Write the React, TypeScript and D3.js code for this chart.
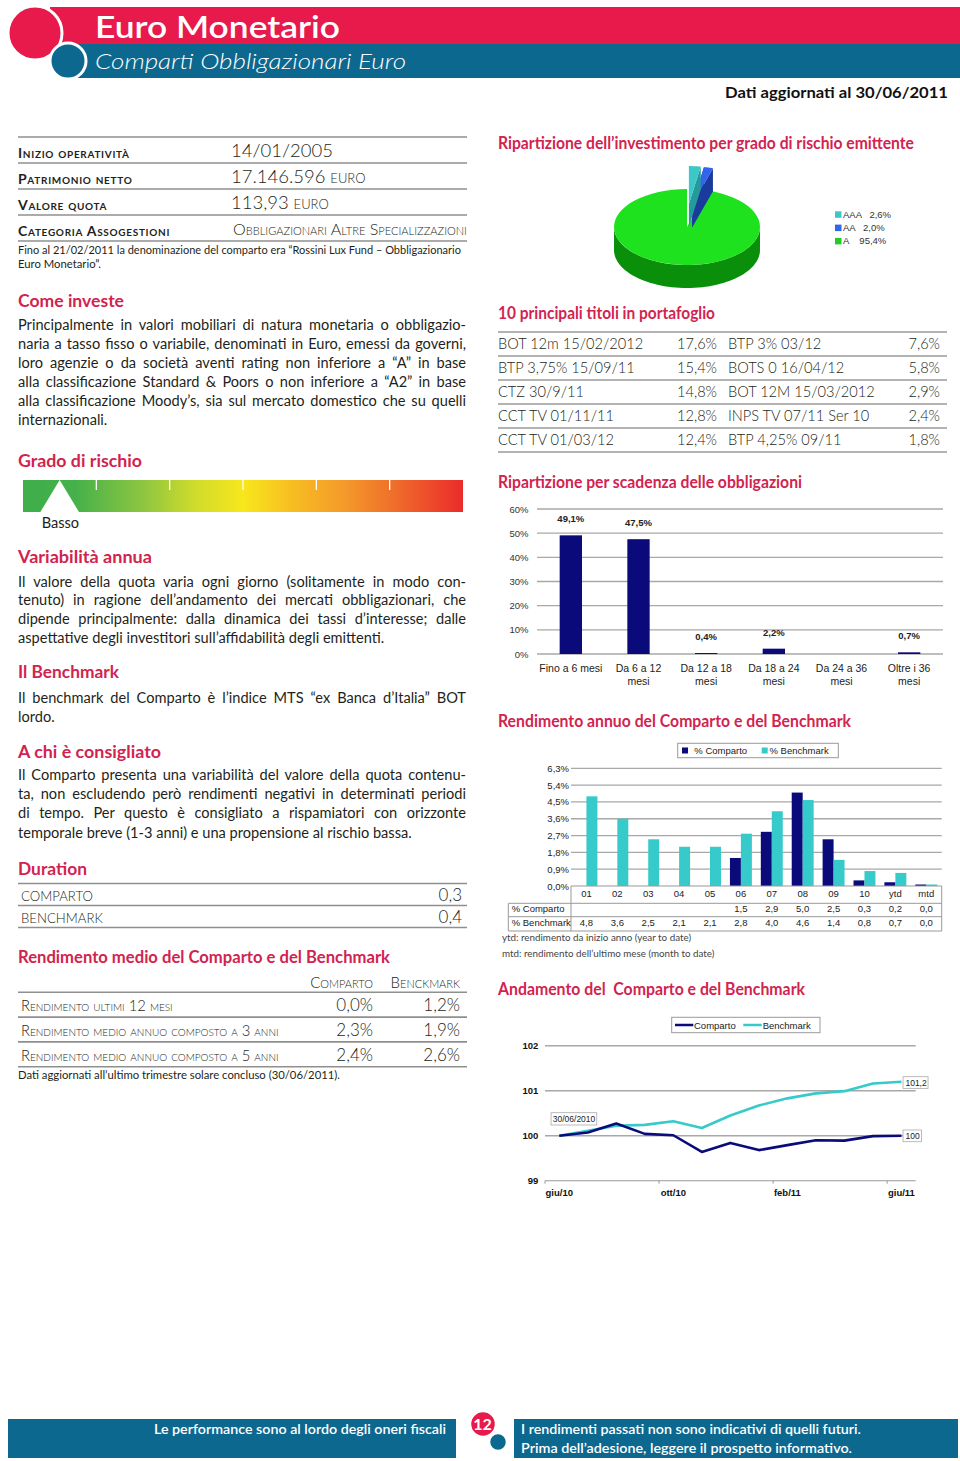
import React, { useLayoutEffect, useRef } from 'react';
import * as d3 from 'd3';

// ---------------- DATA ----------------
const infoLabels = ['Inizio operatività', 'Patrimonio netto', 'Valore quota', 'Categoria Assogestioni'];
const infoValues = ['14/01/2005', '17.146.596', '113,93', 'Obbligazionari Altre Specializzazioni'];
const infoUnits = ['', 'euro', 'euro', ''];

const riskClasses = 6;
const riskLevel = 1;
const riskLabel = 'Basso';

const ratingLabels = ['AAA', 'AA', 'A'];
const ratingValues = [2.6, 2.0, 95.4];

const holdingsLeft = ['BOT 12m 15/02/2012', 'BTP 3,75% 15/09/11', 'CTZ 30/9/11', 'CCT TV 01/11/11', 'CCT TV 01/03/12'];
const weightsLeft = [17.6, 15.4, 14.8, 12.8, 12.4];
const holdingsRight = ['BTP 3% 03/12', 'BOTS 0 16/04/12', 'BOT 12M 15/03/2012', 'INPS TV 07/11 Ser 10', 'BTP 4,25% 09/11'];
const weightsRight = [7.6, 5.8, 2.9, 2.4, 1.8];

const maturityCategories = ['Fino a 6 mesi', 'Da 6 a 12\nmesi', 'Da 12 a 18\nmesi', 'Da 18 a 24\nmesi', 'Da 24 a 36\nmesi', 'Oltre i 36\nmesi'];
const maturityValues = [49.1, 47.5, 0.4, 2.2, 0, 0.7];
const maturityTicks = [0, 10, 20, 30, 40, 50, 60];

const returnPeriods = ['01', '02', '03', '04', '05', '06', '07', '08', '09', '10', 'ytd', 'mtd'];
const returnComparto: (number | null)[] = [null, null, null, null, null, 1.5, 2.9, 5.0, 2.5, 0.3, 0.2, 0.0];
const returnBenchmark = [4.8, 3.6, 2.5, 2.1, 2.1, 2.8, 4.0, 4.6, 1.4, 0.8, 0.7, 0.0];
const returnTicks = [0, 0.9, 1.8, 2.7, 3.6, 4.5, 5.4, 6.3];

const navMonths = ['giu/10', 'lug/10', 'ago/10', 'set/10', 'ott/10', 'nov/10', 'dic/10', 'gen/11', 'feb/11', 'mar/11', 'apr/11', 'mag/11', 'giu/11'];
const navComparto = [100.0, 100.07, 100.27, 100.04, 100.01, 99.64, 99.84, 99.68, 99.79, 99.9, 99.89, 99.99, 100.0];
const navBenchmark = [100.0, 100.11, 100.22, 100.24, 100.32, 100.17, 100.45, 100.67, 100.83, 100.94, 100.99, 101.16, 101.2];
const navTicks = [99, 100, 101, 102];
const navTickMonths = ['giu/10', 'ott/10', 'feb/11', 'giu/11'];
const navStartLabel = '30/06/2010';

const durationLabels = ['COMPARTO', 'BENCHMARK'];
const durationValues = [0.3, 0.4];

const avgLabels = ['Rendimento ultimi 12 mesi', 'Rendimento medio annuo composto a 3 anni', 'Rendimento medio annuo composto a 5 anni'];
const avgComparto = [0.0, 2.3, 2.4];
const avgBenchmark = [1.2, 1.9, 2.6];

// ---------------- STYLE ----------------
const RED = '#D2234F';
const HRED = '#E8194B';
const BLUE = '#0D688F';
const TXT = '#231F20';
const NAVY = '#0A0A7A';
const CYAN = '#36CACA';
const GRID = '#A8A8A8';
const BODY = 'Lato, "Open Sans", sans-serif';
const ARIAL = '"Liberation Sans", Arial, sans-serif';

const fmt1 = (v: number) => d3.format('.1f')(v).replace('.', ',');
const fmtR = (v: number) => d3.format('.4~r')(v).replace('.', ',');

const Heading = ({ x, y, w, children }: any) => (
  <text x={x} y={y} textLength={w} lengthAdjust="spacingAndGlyphs" fontFamily={BODY} fontWeight={700} fontSize={16.5} fill={RED} style={{ whiteSpace: 'pre' }}>
    {children}
  </text>
);

const Para = ({ x, y, lh, w, lines }: { x: number; y: number; lh: number; w: number; lines: string[] }) => (
  <g fontFamily={BODY} fontSize={14.6} fill={TXT}>
    {lines.map((l, i) => (
      <text key={i} x={x} y={y + i * lh} data-justify={i < lines.length - 1 ? w : undefined}>
        {l}
      </text>
    ))}
  </g>
);

// ---------------- SECTIONS ----------------
function Header() {
  return (
    <g>
      <rect x={50} y={7} width={910} height={37} fill={HRED} />
      <rect x={60} y={44} width={900} height={34} fill={BLUE} />
      <circle cx={35} cy={33} r={27} fill={HRED} stroke="#fff" strokeWidth={3} />
      <circle cx={68} cy={61} r={18} fill={BLUE} stroke="#fff" strokeWidth={3} />
      <text x={95} y={38} textLength={245} lengthAdjust="spacingAndGlyphs" fontFamily={BODY} fontWeight={600} fontSize={31} fill="#fff">Euro Monetario</text>
      <text x={95} y={69} textLength={311} lengthAdjust="spacingAndGlyphs" fontFamily={BODY} fontStyle="italic" fontWeight={300} fontSize={22} fill="#fff">Comparti Obbligazionari Euro</text>
      <text x={725} y={98} textLength={223} lengthAdjust="spacingAndGlyphs" fontFamily={BODY} fontWeight={700} fontSize={14.5} fill="#111">Dati aggiornati al 30/06/2011</text>
    </g>
  );
}

function InfoTable() {
  const top = 137, rowH = 26;
  return (
    <g>
      {d3.range(infoLabels.length + 1).map(i => (
        <line key={i} x1={18} x2={467} y1={top + i * rowH} y2={top + i * rowH} stroke="#8F8F8F" strokeWidth={1.6} />
      ))}
      {infoLabels.map((l, i) => (
        <g key={l}>
          <text x={18} y={top + i * rowH + 20.5} fontFamily={BODY} fontWeight={700} fontSize={14} letterSpacing={0.7} fill={TXT} style={{ fontVariant: 'small-caps' }}>{l}</text>
          {i < 3 ? (
            <text x={231} y={top + i * rowH + 19.5} fontFamily={BODY} fontWeight={300} fontSize={18.5} fill={TXT}>
              {infoValues[i]}
              {infoUnits[i] ? <tspan style={{ fontVariant: 'small-caps' }} fontSize={18}>{' ' + infoUnits[i]}</tspan> : null}
            </text>
          ) : (
            <text x={233} y={top + i * rowH + 19.5} textLength={234} lengthAdjust="spacingAndGlyphs" fontFamily={BODY} fontWeight={300} fontSize={16} fill={TXT} style={{ fontVariant: 'small-caps' }}>{infoValues[i]}</text>
          )}
        </g>
      ))}
      <text x={18} y={254} fontFamily={BODY} fontSize={11.3} fill={TXT} textLength={443} lengthAdjust="spacingAndGlyphs">Fino al 21/02/2011 la denominazione del comparto era “Rossini Lux Fund – Obbligazionario</text>
      <text x={18} y={267.5} fontFamily={BODY} fontSize={11.3} fill={TXT}>Euro Monetario”.</text>
    </g>
  );
}

function RiskBar() {
  const x0 = 23, x1 = 463, y0 = 480, h = 32;
  const seg = (x1 - x0) / riskClasses;
  const cx = x0 + seg * (riskLevel - 0.5);
  return (
    <g>
      <defs>
        <linearGradient id="riskGrad" x1="0" x2="1" y1="0" y2="0">
          <stop offset="0" stopColor="#3DAE4A" />
          <stop offset="0.12" stopColor="#46B14A" />
          <stop offset="0.27" stopColor="#8CC541" />
          <stop offset="0.39" stopColor="#CFDB2C" />
          <stop offset="0.5" stopColor="#F8E71C" />
          <stop offset="0.61" stopColor="#F7BE22" />
          <stop offset="0.73" stopColor="#F49A2A" />
          <stop offset="0.85" stopColor="#EF6B2B" />
          <stop offset="1" stopColor="#EB2B2B" />
        </linearGradient>
      </defs>
      <rect x={x0} y={y0} width={x1 - x0} height={h} fill="url(#riskGrad)" />
      {d3.range(1, riskClasses).map(k => (
        <line key={k} x1={x0 + k * seg} x2={x0 + k * seg} y1={y0} y2={y0 + 10} stroke="#fff" strokeWidth={1.3} />
      ))}
      <path d={`M${cx},${y0} L${cx - 19.3},${y0 + h} L${cx + 19.3},${y0 + h} Z`} fill="#fff" />
      <text x={cx - 18} y={527.5} fontFamily={BODY} fontSize={14.6} fill={TXT}>{riskLabel}</text>
    </g>
  );
}

function DurationTable() {
  const top = 883.5, rowH = 22;
  return (
    <g>
      {d3.range(durationLabels.length + 1).map(i => (
        <line key={i} x1={18} x2={467} y1={top + i * rowH} y2={top + i * rowH} stroke="#8F8F8F" strokeWidth={1.6} />
      ))}
      {durationLabels.map((l, i) => (
        <g key={l}>
          <text x={21} y={top + i * rowH + 17.5} fontFamily={BODY} fontWeight={300} fontSize={13.2} fill={TXT}>{l}</text>
          <text x={462} y={top + i * rowH + 17.5} textAnchor="end" fontFamily={BODY} fontWeight={300} fontSize={17} fill={TXT}>{fmt1(durationValues[i])}</text>
        </g>
      ))}
    </g>
  );
}

function AvgTable() {
  const top = 992.3, rowH = 24.8;
  return (
    <g>
      <text x={373} y={987.7} textAnchor="end" fontFamily={BODY} fontWeight={300} fontSize={15} fill={TXT} style={{ fontVariant: 'small-caps' }}>Comparto</text>
      <text x={460} y={987.7} textAnchor="end" fontFamily={BODY} fontWeight={300} fontSize={15} fill={TXT} style={{ fontVariant: 'small-caps' }}>Benckmark</text>
      {d3.range(avgLabels.length + 1).map(i => (
        <line key={i} x1={18} x2={467} y1={top + i * rowH} y2={top + i * rowH} stroke="#8F8F8F" strokeWidth={1.6} />
      ))}
      {avgLabels.map((l, i) => (
        <g key={l}>
          <text x={21} y={top + (i + 1) * rowH - 5.8} fontFamily={BODY} fontWeight={300} fontSize={14.8} fill={TXT} style={{ fontVariant: 'small-caps' }}>{l}</text>
          <text x={373} y={top + (i + 1) * rowH - 5.8} textAnchor="end" fontFamily={BODY} fontWeight={300} fontSize={17} fill={TXT}>{fmt1(avgComparto[i]) + '%'}</text>
          <text x={460} y={top + (i + 1) * rowH - 5.8} textAnchor="end" fontFamily={BODY} fontWeight={300} fontSize={17} fill={TXT}>{fmt1(avgBenchmark[i]) + '%'}</text>
        </g>
      ))}
      <text x={18} y={1079} fontFamily={BODY} fontSize={11.3} fill={TXT}>Dati aggiornati all’ultimo trimestre solare concluso (30/06/2011).</text>
    </g>
  );
}

function Pie3D() {
  const cx = 687, cy = 227, rx = 73, ry = 38, depth = 23, explode = 23;
  const arcs = d3.pie<number>().sort(null).value(d => d)(ratingValues);
  const top = ['#3CC8C8', '#3264EE', '#1EE21E'];
  const side = ['#249A9A', '#1A3A9E', '#0A8F0A'];
  const ell = (a: number, ox: number, oy: number, dz = 0): [number, number] => [cx + ox + rx * Math.sin(a), cy + oy - ry * Math.cos(a) + dz];
  const pts = (a0: number, a1: number, ox: number, oy: number, dz = 0) => d3.range(0, 61).map(i => ell(a0 + ((a1 - a0) * i) / 60, ox, oy, dz));
  const ln = d3.line();
  const parts: any[] = [];
  const order = [2, 1, 0];
  order.forEach(i => {
    const a = arcs[i];
    const mid = (a.startAngle + a.endAngle) / 2;
    const ex = a.value < 10 ? explode : 0;
    const ox = ex * Math.sin(mid), oy = -ex * Math.cos(mid);
    const s = Math.max(a.startAngle, Math.PI / 2), e = Math.min(a.endAngle, (3 * Math.PI) / 2);
    if (s < e) {
      parts.push(<path key={`s${i}`} d={ln([...pts(s, e, ox, oy), ...pts(e, s, ox, oy, depth)])! + 'Z'} fill={side[i]} />);
    }
    if (ex) {
      [a.startAngle, a.endAngle].forEach((ang, k) => {
        parts.push(
          <path key={`w${i}${k}`} d={ln([[cx + ox, cy + oy], ell(ang, ox, oy), ell(ang, ox, oy, depth), [cx + ox, cy + oy + depth]])! + 'Z'} fill={side[i]} />
        );
      });
    }
    parts.push(<path key={`t${i}`} d={ln([[cx + ox, cy + oy], ...pts(a.startAngle, a.endAngle, ox, oy)])! + 'Z'} fill={top[i]} />);
  });
  return (
    <g>
      {parts}
      {ratingLabels.map((l, i) => (
        <g key={l}>
          <rect x={835} y={211.3 + i * 13.3} width={6.5} height={6.5} fill={top[i] === '#1EE21E' ? '#22CC22' : top[i]} />
          <text x={843} y={217.5 + i * 13.3} fontFamily={ARIAL} fontSize={9.5} fill="#333" style={{ whiteSpace: 'pre' }}>
            {l + (l.length === 1 ? '    ' : '   ') + fmt1(ratingValues[i]) + '%'}
          </text>
        </g>
      ))}
    </g>
  );
}

function Holdings() {
  const top = 332, rowH = 24;
  return (
    <g fontFamily={BODY} fontWeight={300} fontSize={14.6} fill={TXT}>
      {d3.range(holdingsLeft.length + 1).map(i => (
        <line key={i} x1={498} x2={947} y1={top + i * rowH} y2={top + i * rowH} stroke="#9A9A9A" strokeWidth={1.5} />
      ))}
      {holdingsLeft.map((h, i) => (
        <g key={h}>
          <text x={498} y={top + i * rowH + 16.5}>{h}</text>
          <text x={717} y={top + i * rowH + 16.5} textAnchor="end">{fmt1(weightsLeft[i]) + '%'}</text>
          <text x={728} y={top + i * rowH + 16.5}>{holdingsRight[i]}</text>
          <text x={940} y={top + i * rowH + 16.5} textAnchor="end">{fmt1(weightsRight[i]) + '%'}</text>
        </g>
      ))}
    </g>
  );
}

function MaturityChart() {
  const x = d3.scaleBand().domain(maturityCategories).range([537, 943]).paddingInner(0.67).paddingOuter(0.335);
  const y = d3.scaleLinear().domain([0, 60]).range([654, 509]);
  return (
    <g fontFamily={ARIAL}>
      {maturityTicks.map(t => (
        <g key={t}>
          <line x1={537} x2={943} y1={y(t)} y2={y(t)} stroke={GRID} strokeWidth={1.3} />
          <text x={528.5} y={y(t) + 3.5} textAnchor="end" fontSize={9.5} fill="#333">{d3.format('d')(t) + '%'}</text>
        </g>
      ))}
      {maturityCategories.map((c, i) => {
        const v = maturityValues[i];
        const cxm = (x(c) as number) + x.bandwidth() / 2;
        return (
          <g key={c}>
            {v > 0 && <rect x={x(c)} y={y(v)} width={x.bandwidth()} height={y(0) - y(v)} fill={NAVY} />}
            {v > 0 && (
              <text x={cxm} y={y(v) - 13} textAnchor="middle" fontSize={9.5} fontWeight={700} fill="#222">{fmt1(v) + '%'}</text>
            )}
            {c.split('\n').map((l, k) => (
              <text key={k} x={cxm} y={672 + k * 13} textAnchor="middle" fontSize={10.5} fill="#222">{l}</text>
            ))}
          </g>
        );
      })}
    </g>
  );
}

function ReturnsChart() {
  const x = d3.scaleBand().domain(returnPeriods).range([571, 941.7]).paddingInner(0.29).paddingOuter(0.145);
  const sub = d3.scaleBand().domain(['c', 'b']).range([0, x.bandwidth()]);
  const y = d3.scaleLinear().domain([0, 6.3]).range([886, 768.3]);
  const bar = (v: number) => Math.max(y(0) - y(v), 1.5);
  return (
    <g fontFamily={ARIAL} fontSize={9.5} fill="#222">
      <rect x={677.7} y={743.3} width={160.6} height={14.4} fill="#fff" stroke="#9A9A9A" strokeWidth={1} />
      <rect x={682} y={747.5} width={6} height={6} fill={NAVY} />
      <text x={694.3} y={753.8}>% Comparto</text>
      <rect x={761.7} y={747.5} width={6} height={6} fill={CYAN} />
      <text x={769.5} y={753.8}>% Benchmark</text>
      {returnTicks.map(t => (
        <g key={t}>
          {t > 0 && <line x1={571} x2={941.7} y1={y(t)} y2={y(t)} stroke={GRID} strokeWidth={1.3} />}
          <text x={569} y={y(t) + 3.5} textAnchor="end">{fmt1(t) + '%'}</text>
        </g>
      ))}
      {returnPeriods.map((p, i) => {
        const c = returnComparto[i];
        const b = returnBenchmark[i];
        const x0 = x(p) as number;
        return (
          <g key={p}>
            {c !== null && <rect x={x0 + (sub('c') as number)} y={y(0) - bar(c)} width={sub.bandwidth()} height={bar(c)} fill={NAVY} />}
            <rect x={x0 + (sub('b') as number)} y={y(0) - bar(b)} width={sub.bandwidth()} height={bar(b)} fill={CYAN} />
          </g>
        );
      })}
      <line x1={571} x2={941.7} y1={y(0)} y2={y(0)} stroke="#999" strokeWidth={1.2} />
      {[903.3, 916.7, 931].map(yy => (
        <line key={yy} x1={508.3} x2={941.7} y1={yy} y2={yy} stroke="#999" strokeWidth={1} />
      ))}
      <line x1={508.3} x2={508.3} y1={903.3} y2={931} stroke="#999" strokeWidth={1} />
      <line x1={571} x2={571} y1={886} y2={931} stroke="#999" strokeWidth={1} />
      <line x1={941.7} x2={941.7} y1={886} y2={931} stroke="#999" strokeWidth={1} />
      <text x={511.7} y={912}>% Comparto</text>
      <text x={511.7} y={926.2}>% Benchmark</text>
      {returnPeriods.map((p, i) => {
        const cx = (x(p) as number) + x.bandwidth() / 2;
        const c = returnComparto[i];
        return (
          <g key={p} textAnchor="middle">
            <text x={cx} y={896.8}>{p}</text>
            {c !== null && <text x={cx} y={912}>{fmt1(c)}</text>}
            <text x={cx} y={926.2}>{fmt1(returnBenchmark[i])}</text>
          </g>
        );
      })}
      <text x={502} y={941} fontFamily={BODY} fontSize={9.8} fill="#444">ytd: rendimento da inizio anno (year to date)</text>
      <text x={502} y={957} fontFamily={BODY} fontSize={9.8} fill="#444">mtd: rendimento dell’ultimo mese (month to date)</text>
    </g>
  );
}

function NavChart() {
  const x = d3.scalePoint().domain(navMonths).range([545, 915.7]).padding(0.5);
  const y = d3.scaleLinear().domain([99, 102]).range([1180.7, 1045.7]);
  const step = x.step();
  const line = d3.line<number>().x((d, i) => x(navMonths[i]) as number).y(d => y(d));
  const last = navMonths.length - 1;
  const xl = x(navMonths[last]) as number;
  const x0 = x(navMonths[0]) as number;
  return (
    <g fontFamily={ARIAL}>
      <rect x={671.7} y={1017.3} width={148.3} height={15.4} fill="#fff" stroke="#9A9A9A" strokeWidth={1} />
      <line x1={675} x2={693.3} y1={1025} y2={1025} stroke={NAVY} strokeWidth={2.5} />
      <text x={694} y={1028.6} fontSize={9.5} fill="#222">Comparto</text>
      <line x1={743.3} x2={761.7} y1={1025} y2={1025} stroke={CYAN} strokeWidth={2.5} />
      <text x={762.7} y={1028.6} fontSize={9.5} fill="#222">Benchmark</text>
      {navTicks.map(t => (
        <g key={t}>
          <line x1={545} x2={915.7} y1={y(t)} y2={y(t)} stroke={t === 99 ? '#999' : GRID} strokeWidth={t === 99 ? 1.1 : 1.4} />
          <text x={538.3} y={y(t) + 3.5} textAnchor="end" fontSize={9.5} fontWeight={700} fill="#111">{d3.format('d')(t)}</text>
        </g>
      ))}
      {navTickMonths.map(m => {
        const xm = x(m) as number;
        return (
          <g key={m}>
            <line x1={xm - step / 2} x2={xm - step / 2} y1={y(99)} y2={y(99) + 3} stroke="#999" strokeWidth={1} />
            <text x={xm} y={1196} textAnchor="middle" fontSize={9.5} fontWeight={700} fill="#111">{m}</text>
          </g>
        );
      })}
      <path d={line(navBenchmark)!} fill="none" stroke={CYAN} strokeWidth={2.6} strokeLinejoin="round" />
      <path d={line(navComparto)!} fill="none" stroke={NAVY} strokeWidth={2.6} strokeLinejoin="round" />
      <rect x={x0 - 8.2} y={y(navComparto[0]) - 23} width={45.7} height={12.3} fill="#fff" stroke="#AAA" strokeWidth={0.8} />
      <text x={x0 - 6.5} y={y(navComparto[0]) - 14} fontSize={8.5} fill="#222">{navStartLabel}</text>
      <rect x={xl + 1.6} y={y(navBenchmark[last]) - 5} width={25} height={11.7} fill="#fff" stroke="#AAA" strokeWidth={0.8} />
      <text x={xl + 4} y={y(navBenchmark[last]) + 4} fontSize={8.5} fill="#222">{fmtR(navBenchmark[last])}</text>
      <rect x={xl + 1.6} y={y(navComparto[last]) - 5.7} width={18.4} height={11.7} fill="#fff" stroke="#AAA" strokeWidth={0.8} />
      <text x={xl + 4} y={y(navComparto[last]) + 3.3} fontSize={8.5} fill="#222">{fmtR(navComparto[last])}</text>
    </g>
  );
}

function Footer() {
  return (
    <g>
      <rect x={8} y={1419} width={448} height={39} fill={BLUE} />
      <rect x={514} y={1419} width={444} height={39} fill={BLUE} />
      <text x={154} y={1433.5} textLength={292} lengthAdjust="spacingAndGlyphs" fontFamily={BODY} fontWeight={600} fontSize={14} fill="#fff">Le performance sono al lordo degli oneri fiscali</text>
      <text x={521} y={1433.5} textLength={340} lengthAdjust="spacingAndGlyphs" fontFamily={BODY} fontWeight={600} fontSize={14} fill="#fff">I rendimenti passati non sono indicativi di quelli futuri.</text>
      <text x={521} y={1452.5} textLength={331} lengthAdjust="spacingAndGlyphs" fontFamily={BODY} fontWeight={600} fontSize={14} fill="#fff">Prima dell’adesione, leggere il prospetto informativo.</text>
      <circle cx={483} cy={1424} r={12.5} fill={HRED} stroke="#fff" strokeWidth={1.5} />
      <circle cx={498} cy={1442} r={9} fill={BLUE} stroke="#fff" strokeWidth={2.5} />
      <text x={482.5} y={1430} textAnchor="middle" fontFamily={BODY} fontWeight={700} fontSize={16} fill="#fff">12</text>
    </g>
  );
}

export default function App() {
  const svgRef = useRef<SVGSVGElement>(null);
  useLayoutEffect(() => {
    const run = () => {
      const svg = svgRef.current;
      if (!svg) return;
      svg.querySelectorAll('text[data-justify]').forEach((el: any) => {
        const target = +el.getAttribute('data-justify');
        el.style.wordSpacing = '0px';
        const nat = el.getComputedTextLength();
        const n = (el.textContent.match(/ /g) || []).length;
        if (n) el.style.wordSpacing = `${(target - nat) / n}px`;
      });
    };
    run();
    const f: any = (document as any).fonts;
    if (f && f.ready) f.ready.then(run);
  }, []);

  return (
    <svg ref={svgRef} width={960} height={1461} viewBox="0 0 960 1461" style={{ position: 'absolute', left: 0, top: 0, background: '#fff' }}>
      <rect width={960} height={1461} fill="#fff" />
      <Header />
      <InfoTable />

      <Heading x={18} y={306.5} w={106}>Come investe</Heading>
      <Para x={18} y={329.5} lh={19} w={448} lines={[
        'Principalmente in valori mobiliari di natura monetaria o obbligazio-',
        'naria a tasso fisso o variabile, denominati in Euro, emessi da governi,',
        'loro agenzie o da società aventi rating non inferiore a “A” in base',
        'alla classificazione Standard & Poors o non inferiore a “A2” in base',
        'alla classificazione Moody’s, sia sul mercato domestico che su quelli',
        'internazionali.',
      ]} />

      <Heading x={18} y={467} w={124}>Grado di rischio</Heading>
      <RiskBar />

      <Heading x={18} y={563.3} w={134}>Variabilità annua</Heading>
      <Para x={18} y={586.5} lh={18.8} w={448} lines={[
        'Il valore della quota varia ogni giorno (solitamente in modo con-',
        'tenuto) in ragione dell’andamento dei mercati obbligazionari, che',
        'dipende principalmente: dalla dinamica dei tassi d’interesse; dalle',
        'aspettative degli investitori sull’affidabilità degli emittenti.',
      ]} />

      <Heading x={18} y={678.3} w={101}>Il Benchmark</Heading>
      <Para x={18} y={703.3} lh={18.6} w={448} lines={[
        'Il benchmark del Comparto è l’indice MTS “ex Banca d’Italia” BOT',
        'lordo.',
      ]} />

      <Heading x={18} y={758.3} w={143}>A chi è consigliato</Heading>
      <Para x={18} y={780.2} lh={19.1} w={448} lines={[
        'Il Comparto presenta una variabilità del valore della quota contenu-',
        'ta, non escludendo però rendimenti negativi in determinati periodi',
        'di tempo. Per questo è consigliato a rispamiatori con orizzonte',
        'temporale breve (1-3 anni) e una propensione al rischio bassa.',
      ]} />

      <Heading x={18} y={875} w={69}>Duration</Heading>
      <DurationTable />

      <Heading x={18} y={963.3} w={372}>Rendimento medio del Comparto e del Benchmark</Heading>
      <AvgTable />

      <Heading x={498} y={149.3} w={416}>Ripartizione dell’investimento per grado di rischio emittente</Heading>
      <Pie3D />

      <Heading x={498} y={318.5} w={217}>10 principali titoli in portafoglio</Heading>
      <Holdings />

      <Heading x={498} y={488} w={304}>Ripartizione per scadenza delle obbligazioni</Heading>
      <MaturityChart />

      <Heading x={498} y={726.5} w={353}>Rendimento annuo del Comparto e del Benchmark</Heading>
      <ReturnsChart />

      <Heading x={498} y={995} w={307}>Andamento del  Comparto e del Benchmark</Heading>
      <NavChart />

      <Footer />
    </svg>
  );
}
